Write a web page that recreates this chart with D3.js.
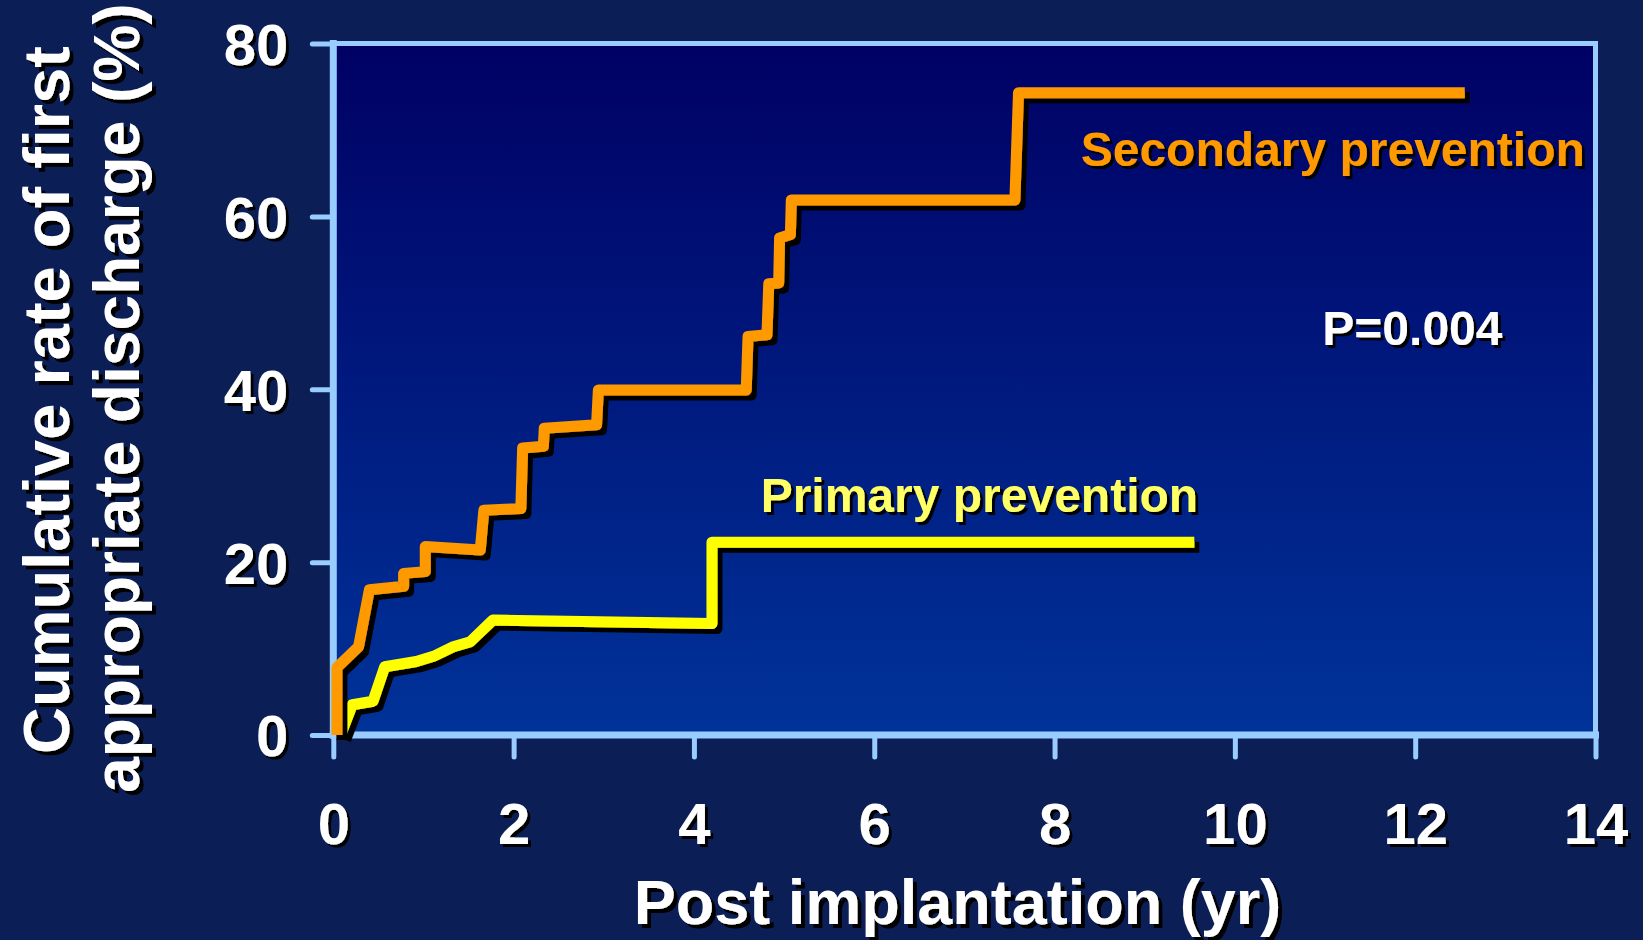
<!DOCTYPE html>
<html lang="en">
<head>
<meta charset="UTF-8">
<title>Cumulative rate of first appropriate discharge</title>
<script src="https://d3js.org/d3.v7.min.js"></script>
<style>
  body { margin: 0; background: #0b1f56; overflow: hidden; }
  text { font-family: "Liberation Sans", Arial, sans-serif; font-weight: bold; }
</style>
</head>
<body>
<div id="chart"></div>
<script>
// curve vertices (years, % discharged)
const secondaryYears = [0.04, 0.04, 0.28, 0.40, 0.78, 0.78, 1.02, 1.02, 1.63, 1.67, 2.08, 2.10, 2.33, 2.34, 2.92, 2.94, 4.58, 4.60, 4.81, 4.83, 4.94, 4.95, 5.07, 5.08, 7.56, 7.60, 12.55];
const secondaryRate  = [0, 7.8, 10.2, 16.8, 17.2, 18.7, 18.9, 21.8, 21.4, 26.0, 26.2, 33.2, 33.4, 35.5, 35.9, 39.9, 39.9, 46.1, 46.3, 52.2, 52.3, 57.5, 57.9, 61.9, 61.9, 74.3, 74.3];

const primaryYears = [0.08, 0.21, 0.44, 0.57, 0.92, 1.11, 1.33, 1.52, 1.77, 4.20, 4.20, 9.55];
const primaryRate  = [0, 3.5, 3.9, 7.9, 8.5, 9.1, 10.2, 10.8, 13.3, 12.9, 22.3, 22.3];

const xTicks = [0, 2, 4, 6, 8, 10, 12, 14];
const yTicks = [0, 20, 40, 60, 80];

const width = 1643, height = 940;
const margin = {top: 43.5, right: 47.5, bottom: 205, left: 333.3};

const x = d3.scaleLinear().domain([0, 14]).range([margin.left, width - margin.right]);
const y = d3.scaleLinear().domain([0, 80]).range([height - margin.bottom, margin.top]);

const svg = d3.select("#chart").append("svg")
    .attr("width", width)
    .attr("height", height);

svg.append("rect").attr("width", width).attr("height", height).attr("fill", "#0b1f56");

const defs = svg.append("defs");
const grad = defs.append("linearGradient").attr("id", "plotbg")
    .attr("x1", 0).attr("y1", 0).attr("x2", 0).attr("y2", 1);
grad.append("stop").attr("offset", "0%").attr("stop-color", "#000064");
grad.append("stop").attr("offset", "100%").attr("stop-color", "#003399");

function shadow(id, d) {
    defs.append("filter").attr("id", id)
        .attr("x", "-20%").attr("y", "-20%").attr("width", "140%").attr("height", "140%")
      .append("feDropShadow")
        .attr("dx", d).attr("dy", d).attr("stdDeviation", 0)
        .attr("flood-color", "#000").attr("flood-opacity", 1);
}
shadow("lineShadow", 5);
shadow("textShadow", 3);
shadow("titleShadow", 4);

// plot area
svg.append("rect")
    .attr("x", x(0)).attr("y", y(80))
    .attr("width", x(14) - x(0)).attr("height", y(0) - y(80))
    .attr("fill", "url(#plotbg)");

const frameColor = "#99ccff";

// axes
const yAxis = svg.append("g")
    .attr("transform", `translate(${x(0)},0)`)
    .call(d3.axisLeft(y).tickValues(yTicks).tickSize(21).tickPadding(24));
const xAxis = svg.append("g")
    .attr("transform", `translate(0,${y(0)})`)
    .call(d3.axisBottom(x).tickValues(xTicks).tickSize(22).tickPadding(46));

[yAxis, xAxis].forEach(g => {
    g.select(".domain").remove();
    g.selectAll(".tick line")
        .attr("stroke", frameColor).attr("stroke-width", 5).attr("stroke-linecap", "round");
    g.selectAll(".tick text")
        .attr("fill", "#fff").attr("font-size", 58)
        .attr("font-family", "Liberation Sans, Arial, sans-serif")
        .attr("filter", "url(#textShadow)");
});
yAxis.selectAll(".tick text").attr("dy", "0.36em");

// frame
const frame = svg.append("g").attr("stroke", frameColor).attr("stroke-linecap", "square");
frame.append("line").attr("x1", x(0)).attr("x2", x(14)).attr("y1", y(80)).attr("y2", y(80)).attr("stroke-width", 5);
frame.append("line").attr("x1", x(14)).attr("x2", x(14)).attr("y1", y(80)).attr("y2", y(0)).attr("stroke-width", 5);
frame.append("line").attr("x1", x(0)).attr("x2", x(14)).attr("y1", y(0)).attr("y2", y(0)).attr("stroke-width", 7);
frame.append("line").attr("x1", x(0)).attr("x2", x(0)).attr("y1", y(80)).attr("y2", y(0)).attr("stroke-width", 7);

// curves
const line = d3.line().x(d => x(d[0])).y(d => y(d[1]));
const primary = d3.zip(primaryYears, primaryRate);
const secondary = d3.zip(secondaryYears, secondaryRate);

[[primary, "#ffff00"], [secondary, "#ff9900"]].forEach(([pts, color]) => {
    svg.append("path")
        .datum(pts)
        .attr("d", line)
        .attr("fill", "none")
        .attr("stroke", color)
        .attr("stroke-width", 11)
        .attr("stroke-linejoin", "round")
        .attr("stroke-linecap", "butt")
        .attr("filter", "url(#lineShadow)");
});

// labels
svg.append("text")
    .attr("x", x(8.29)).attr("y", y(65.8))
    .attr("font-size", 48).attr("fill", "#ff9900")
    .attr("filter", "url(#textShadow)")
    .text("Secondary prevention");

svg.append("text")
    .attr("x", x(4.74)).attr("y", y(25.8))
    .attr("font-size", 48).attr("fill", "#ffff66")
    .attr("filter", "url(#textShadow)")
    .text("Primary prevention");

svg.append("text")
    .attr("x", x(10.97)).attr("y", y(45.1))
    .attr("font-size", 48).attr("fill", "#fff")
    .attr("filter", "url(#textShadow)")
    .text("P=0.004");

// axis titles
svg.append("g").attr("filter", "url(#titleShadow)")
  .append("text")
    .attr("x", (x(0) + x(14)) / 2 - 7).attr("y", 924)
    .attr("text-anchor", "middle")
    .attr("font-size", 63).attr("fill", "#fff")
    .text("Post implantation (yr)");

const yTitle = svg.append("g").attr("filter", "url(#titleShadow)");
yTitle.append("text")
    .attr("transform", "translate(69,400) rotate(-90)")
    .attr("text-anchor", "middle")
    .attr("font-size", 65).attr("fill", "#fff")
    .text("Cumulative rate of first");
yTitle.append("text")
    .attr("transform", "translate(139,398) rotate(-90)")
    .attr("text-anchor", "middle")
    .attr("font-size", 64).attr("fill", "#fff")
    .text("appropriate discharge (%)");
</script>
</body>
</html>
